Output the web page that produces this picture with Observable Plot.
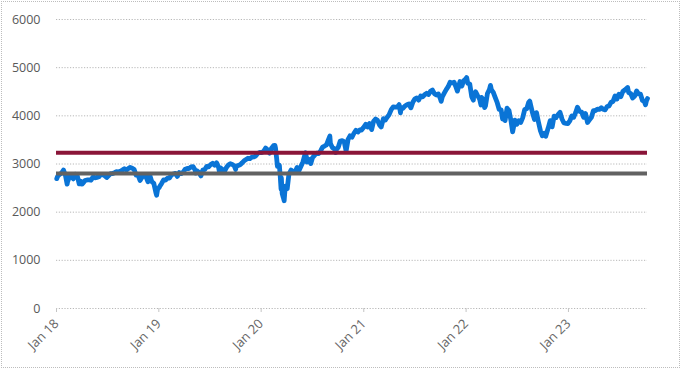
<!DOCTYPE html>
<html>
<head>
<meta charset="utf-8">
<script src="https://cdn.jsdelivr.net/npm/d3@7"></script>
<script src="https://cdn.jsdelivr.net/npm/@observablehq/plot@0.6"></script>
<style>
  html, body { margin: 0; padding: 0; background: #fff; }
  #chart svg { display: block; outline: 1px dotted #bdbdbd; outline-offset: -2px; }
</style>
</head>
<body>
<div id="chart"></div>
<script>
// Index level readings (date, close), by year
const sp2018 = [["2018-01-02",2696],["2018-01-05",2743],["2018-01-12",2786],["2018-01-19",2810],["2018-01-26",2873],["2018-02-02",2762],["2018-02-08",2581],["2018-02-09",2620],["2018-02-16",2732],["2018-02-23",2747],["2018-03-02",2691],["2018-03-09",2786],["2018-03-16",2752],["2018-03-23",2588],["2018-03-29",2641],["2018-04-02",2582],["2018-04-06",2604],["2018-04-13",2656],["2018-04-20",2670],["2018-04-27",2670],["2018-05-04",2663],["2018-05-11",2728],["2018-05-18",2713],["2018-05-25",2721],["2018-06-01",2735],["2018-06-08",2779],["2018-06-15",2780],["2018-06-22",2755],["2018-06-29",2718],["2018-07-06",2760],["2018-07-13",2801],["2018-07-20",2802],["2018-07-27",2819],["2018-08-03",2840],["2018-08-10",2833],["2018-08-17",2850],["2018-08-24",2875],["2018-08-31",2902],["2018-09-07",2872],["2018-09-14",2905],["2018-09-21",2930],["2018-09-28",2914],["2018-10-05",2886],["2018-10-12",2767],["2018-10-19",2768],["2018-10-26",2658],["2018-11-02",2723],["2018-11-09",2781],["2018-11-16",2736],["2018-11-23",2633],["2018-11-30",2760],["2018-12-07",2633],["2018-12-14",2600],["2018-12-21",2417],["2018-12-24",2351],["2018-12-28",2486]];
const sp2019 = [["2019-01-02",2510],["2019-01-04",2532],["2019-01-11",2596],["2019-01-18",2671],["2019-01-25",2665],["2019-02-01",2707],["2019-02-08",2708],["2019-02-15",2776],["2019-02-22",2793],["2019-03-01",2804],["2019-03-08",2743],["2019-03-15",2822],["2019-03-22",2801],["2019-03-29",2834],["2019-04-05",2893],["2019-04-12",2907],["2019-04-18",2905],["2019-04-26",2940],["2019-05-03",2946],["2019-05-10",2881],["2019-05-13",2812],["2019-05-17",2860],["2019-05-24",2826],["2019-05-31",2752],["2019-06-07",2873],["2019-06-14",2887],["2019-06-21",2950],["2019-06-28",2942],["2019-07-05",2990],["2019-07-12",3014],["2019-07-19",2977],["2019-07-26",3026],["2019-08-02",2932],["2019-08-05",2845],["2019-08-09",2919],["2019-08-16",2889],["2019-08-23",2847],["2019-08-30",2926],["2019-09-06",2979],["2019-09-13",3007],["2019-09-20",2992],["2019-09-27",2962],["2019-10-02",2887],["2019-10-04",2952],["2019-10-11",2970],["2019-10-18",2986],["2019-10-25",3023],["2019-11-01",3067],["2019-11-08",3093],["2019-11-15",3120],["2019-11-22",3110],["2019-11-29",3141],["2019-12-06",3146],["2019-12-13",3169],["2019-12-20",3221],["2019-12-27",3240]];
const sp2020 = [["2020-01-03",3235],["2020-01-10",3265],["2020-01-17",3330],["2020-01-24",3295],["2020-01-31",3226],["2020-02-07",3328],["2020-02-14",3380],["2020-02-19",3386],["2020-02-21",3338],["2020-02-25",3128],["2020-02-28",2954],["2020-03-06",2972],["2020-03-09",2747],["2020-03-12",2481],["2020-03-13",2711],["2020-03-16",2386],["2020-03-20",2305],["2020-03-23",2237],["2020-03-27",2541],["2020-04-03",2489],["2020-04-09",2790],["2020-04-17",2875],["2020-04-24",2837],["2020-05-01",2831],["2020-05-08",2930],["2020-05-15",2864],["2020-05-22",2955],["2020-05-29",3044],["2020-06-05",3194],["2020-06-08",3232],["2020-06-12",3041],["2020-06-19",3098],["2020-06-26",3009],["2020-07-02",3130],["2020-07-10",3185],["2020-07-17",3225],["2020-07-24",3216],["2020-07-31",3271],["2020-08-07",3351],["2020-08-14",3373],["2020-08-21",3397],["2020-08-28",3508],["2020-09-02",3580],["2020-09-04",3427],["2020-09-11",3341],["2020-09-18",3319],["2020-09-23",3237],["2020-09-25",3298],["2020-10-02",3348],["2020-10-09",3477],["2020-10-16",3484],["2020-10-23",3465],["2020-10-30",3270],["2020-11-06",3509],["2020-11-13",3585],["2020-11-20",3558],["2020-11-27",3638],["2020-12-04",3699],["2020-12-11",3663],["2020-12-18",3709],["2020-12-24",3703],["2020-12-31",3756]];
const sp2021 = [["2021-01-08",3825],["2021-01-15",3768],["2021-01-22",3841],["2021-01-29",3714],["2021-02-05",3887],["2021-02-12",3934],["2021-02-19",3907],["2021-02-26",3811],["2021-03-04",3768],["2021-03-12",3943],["2021-03-19",3913],["2021-03-26",3975],["2021-04-01",4020],["2021-04-09",4129],["2021-04-16",4185],["2021-04-23",4180],["2021-04-30",4181],["2021-05-07",4233],["2021-05-12",4063],["2021-05-14",4174],["2021-05-21",4156],["2021-05-28",4204],["2021-06-04",4230],["2021-06-11",4247],["2021-06-18",4166],["2021-06-25",4281],["2021-07-02",4352],["2021-07-09",4370],["2021-07-16",4327],["2021-07-23",4412],["2021-07-30",4395],["2021-08-06",4437],["2021-08-13",4468],["2021-08-20",4442],["2021-08-27",4509],["2021-09-03",4535],["2021-09-10",4459],["2021-09-17",4433],["2021-09-24",4455],["2021-10-01",4357],["2021-10-04",4300],["2021-10-08",4391],["2021-10-15",4471],["2021-10-22",4545],["2021-10-29",4605],["2021-11-05",4697],["2021-11-12",4683],["2021-11-19",4698],["2021-11-26",4595],["2021-12-01",4513],["2021-12-10",4712],["2021-12-17",4620],["2021-12-23",4726],["2021-12-31",4766]];
const sp2022 = [["2022-01-03",4796],["2022-01-07",4677],["2022-01-14",4663],["2022-01-21",4398],["2022-01-27",4326],["2022-01-28",4432],["2022-02-04",4501],["2022-02-11",4419],["2022-02-18",4349],["2022-02-23",4225],["2022-02-25",4385],["2022-03-04",4329],["2022-03-08",4170],["2022-03-11",4204],["2022-03-18",4463],["2022-03-25",4543],["2022-03-29",4632],["2022-04-01",4546],["2022-04-08",4488],["2022-04-14",4393],["2022-04-22",4272],["2022-04-29",4132],["2022-05-06",4123],["2022-05-11",3935],["2022-05-13",4024],["2022-05-20",3901],["2022-05-27",4158],["2022-06-03",4109],["2022-06-10",3901],["2022-06-16",3667],["2022-06-24",3912],["2022-07-01",3825],["2022-07-08",3899],["2022-07-15",3863],["2022-07-22",3962],["2022-07-29",4130],["2022-08-05",4145],["2022-08-12",4280],["2022-08-16",4305],["2022-08-19",4228],["2022-08-26",4058],["2022-09-02",3924],["2022-09-09",4067],["2022-09-16",3873],["2022-09-23",3693],["2022-09-30",3586],["2022-10-07",3640],["2022-10-12",3577],["2022-10-21",3752],["2022-10-28",3901],["2022-11-04",3771],["2022-11-11",3993],["2022-11-18",3965],["2022-11-25",4026],["2022-12-02",4072],["2022-12-09",3934],["2022-12-16",3852],["2022-12-23",3845],["2022-12-30",3840]];
const sp2023 = [["2023-01-06",3895],["2023-01-13",3999],["2023-01-20",3973],["2023-01-27",4071],["2023-02-02",4180],["2023-02-10",4090],["2023-02-17",4079],["2023-02-24",3970],["2023-03-03",4046],["2023-03-10",3862],["2023-03-17",3917],["2023-03-24",3971],["2023-03-31",4109],["2023-04-06",4105],["2023-04-14",4138],["2023-04-21",4133],["2023-04-28",4169],["2023-05-05",4136],["2023-05-12",4124],["2023-05-19",4192],["2023-05-26",4205],["2023-06-02",4282],["2023-06-09",4299],["2023-06-16",4410],["2023-06-23",4348],["2023-06-30",4450],["2023-07-07",4399],["2023-07-14",4505],["2023-07-21",4536],["2023-07-31",4589],["2023-08-04",4478],["2023-08-11",4464],["2023-08-18",4370],["2023-08-25",4406],["2023-09-01",4516],["2023-09-08",4457],["2023-09-15",4450],["2023-09-22",4320],["2023-09-29",4288],["2023-10-03",4229],["2023-10-06",4309],["2023-10-10",4358]];

// Horizontal reference levels
const upperLevel = [3235];
const lowerLevel = [2805];

// Axis ticks
const yTicks = [0, 1000, 2000, 3000, 4000, 5000, 6000];
const xTickDates = ["2018-01-01","2019-01-01","2020-01-01","2021-01-01","2022-01-01","2023-01-01"];
const xTickLabels = ["Jan 18","Jan 19","Jan 20","Jan 21","Jan 22","Jan 23"];

const series = [...sp2018, ...sp2019, ...sp2020, ...sp2021, ...sp2022, ...sp2023]
  .map(([d, v]) => ({date: new Date(d + "T00:00:00Z"), close: v}));
const xTicks = xTickDates.map(d => new Date(d + "T00:00:00Z"));

const chart = Plot.plot({
  width: 681,
  height: 369,
  marginLeft: 56,
  marginRight: 34,
  marginTop: 19,
  marginBottom: 61,
  style: {fontFamily: "'Open Sans', sans-serif", fontSize: "12px", color: "#595959", background: "#fff"},
  x: {type: "utc", domain: [xTicks[0], series[series.length - 1].date], label: null},
  y: {domain: [0, 6000], label: null},
  marks: [
    Plot.gridY(yTicks, {stroke: "#b8b8b8", strokeOpacity: 1, strokeDasharray: "1.2,1.6", strokeWidth: 1}),
    Plot.axisY(yTicks, {tickSize: 0, tickPadding: 16, tickFormat: d => String(d), fill: "#595959", fontSize: 12.5, label: null}),
    Plot.axisX(xTicks, {tickSize: 4, stroke: "#c4c4c4", tickRotate: -45, tickPadding: 9, fontSize: 13,
      tickFormat: (d, i) => xTickLabels[i], fill: "#666666", label: null}),
    Plot.line(series, {x: "date", y: "close", stroke: "#0a74d6", strokeWidth: 4.8, strokeLinejoin: "round", strokeLinecap: "round"}),
    Plot.ruleY(upperLevel, {stroke: "#8a1538", strokeWidth: 4}),
    Plot.ruleY(lowerLevel, {stroke: "#626262", strokeWidth: 4})
  ]
});
document.getElementById("chart").append(chart);
</script>
</body>
</html>
